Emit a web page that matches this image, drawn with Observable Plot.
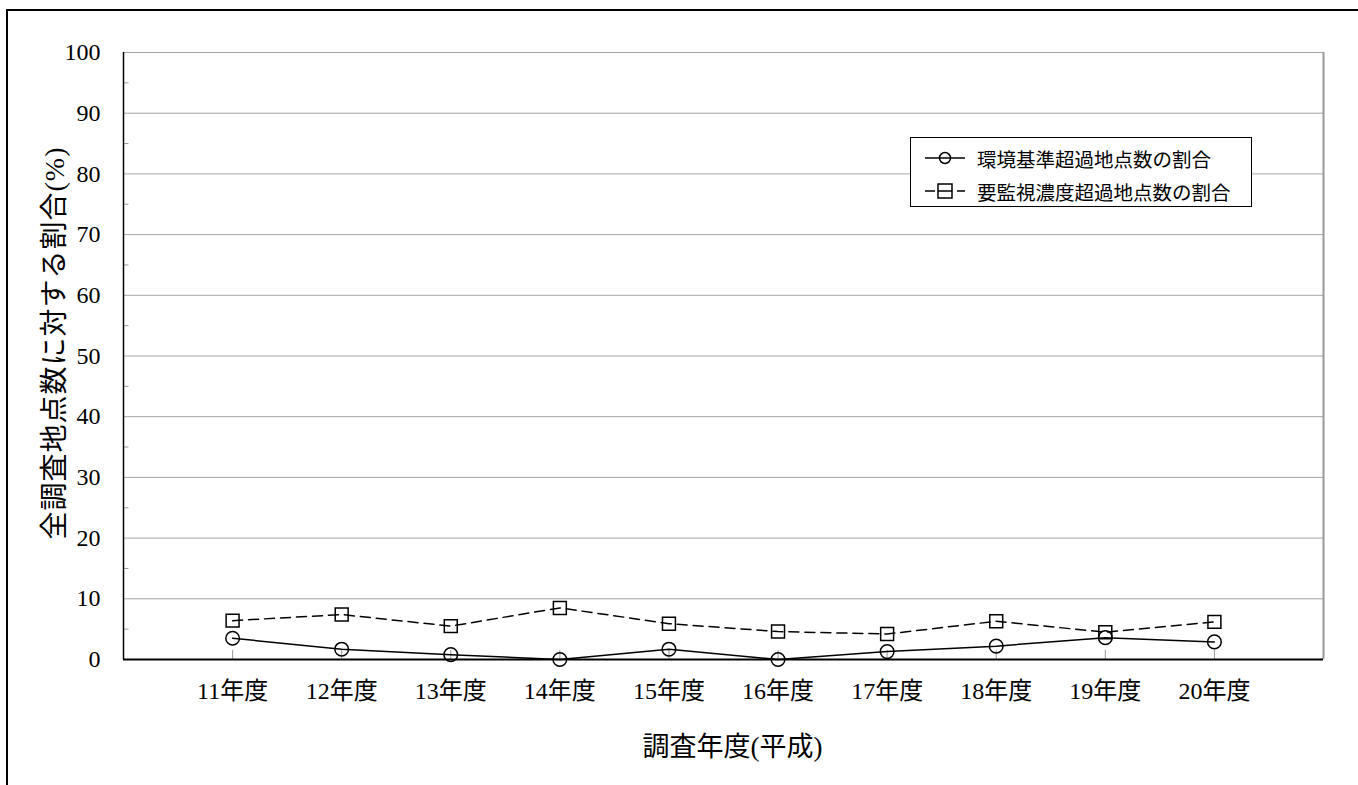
<!DOCTYPE html>
<html>
<head>
<meta charset="utf-8">
<script src="https://cdn.jsdelivr.net/npm/d3@7"></script>
<script src="https://cdn.jsdelivr.net/npm/@observablehq/plot@0.6"></script>
<style>
  html, body { margin: 0; padding: 0; background: #fff; overflow: hidden; }
  #wrap { position: relative; width: 1358px; height: 785px; }
  #outer { position: absolute; left: 6px; top: 9px; width: 1400px; height: 800px;
           border-top: 2px solid #000; border-left: 2px solid #000; pointer-events: none; }
  #chart { position: absolute; left: 0; top: 0; }
  #ytitle { position: absolute; left: 55px; top: 343px; transform: translate(-50%, -50%) rotate(-90deg);
            white-space: nowrap; font-family: "Liberation Serif", "Noto Sans CJK JP", serif; font-size: 28px;
            letter-spacing: 1px; line-height: 1; color: #000; }
  #legend { position: absolute; left: 910px; top: 137px; width: 340px; height: 68px;
            border: 1.5px solid #000; background: #fff;
            font-family: "Liberation Serif", "Noto Sans CJK JP", serif; font-size: 19.5px; color: #000; }
  .row { position: absolute; left: 12px; height: 30px; display: flex; align-items: center; }
  .row svg { margin-right: 10px; }
</style>
</head>
<body>
<div id="wrap">
  <div id="chart"></div>
  <div id="outer"></div>
  <div id="ytitle"></div>
  <div id="legend"></div>
</div>
<script>
// ---- data ----
const years = ["11年度", "12年度", "13年度", "14年度", "15年度", "16年度", "17年度", "18年度", "19年度", "20年度"];
const envStandard = [3.5, 1.7, 0.8, 0.0, 1.7, 0.0, 1.3, 2.2, 3.6, 2.9];   // 環境基準超過地点数の割合
const monitoring  = [6.4, 7.4, 5.5, 8.5, 5.9, 4.6, 4.2, 6.3, 4.5, 6.2];   // 要監視濃度超過地点数の割合
const seriesNames = ["環境基準超過地点数の割合", "要監視濃度超過地点数の割合"];
const yTicks = [0, 10, 20, 30, 40, 50, 60, 70, 80, 90, 100];
const yMinor = [5, 15, 25, 35, 45, 55, 65, 75, 85, 95];
const xTitle = "調査年度(平成)";
const yTitle = "全調査地点数に対する割合(%)";

const idx = years.map((_, i) => i + 1);
const envData = years.map((y, i) => ({pos: i + 1, v: envStandard[i]}));
const monData = years.map((y, i) => ({pos: i + 1, v: monitoring[i]}));

const font = "'Liberation Serif', 'Noto Sans CJK JP', serif";

const chart = Plot.plot({
  width: 1358,
  height: 785,
  marginLeft: 123,
  marginRight: 35,
  marginTop: 52,
  marginBottom: 126,
  style: {fontFamily: font, color: "#000", background: "#fff"},
  x: {type: "linear", domain: [0, years.length + 1], axis: null},
  y: {type: "linear", domain: [0, 100], axis: null},
  marks: [
    Plot.ruleY(yTicks.filter(d => d > 0), {stroke: "#a6a6a6", strokeWidth: 1}),
    Plot.ruleX([years.length + 1], {stroke: "#999", strokeWidth: 2}),
    Plot.ruleY(yMinor, {x1: 0, x2: 0.05, stroke: "#999"}),
    Plot.ruleX(idx, {y1: 0, y2: 1.5, stroke: "#999"}),
    Plot.ruleX([0], {stroke: "#000", strokeWidth: 1.5}),
    Plot.ruleY([0], {stroke: "#000", strokeWidth: 2}),
    Plot.axisY(yTicks, {tickSize: 0, tickPadding: 23, fontSize: 24, label: null}),
    Plot.axisX(idx, {tickSize: 0, tickPadding: 22, fontSize: 24, label: null,
                     tickFormat: i => years[i - 1]}),
    Plot.line(monData, {x: "pos", y: "v", stroke: "#000", strokeWidth: 1.5, strokeDasharray: "10,6"}),
    Plot.dot(monData, {x: "pos", y: "v", symbol: "square", r: 7.3, stroke: "#000", strokeWidth: 1.5, fill: "none"}),
    Plot.line(envData, {x: "pos", y: "v", stroke: "#000", strokeWidth: 1.5}),
    Plot.dot(envData, {x: "pos", y: "v", symbol: "circle", r: 6.8, stroke: "#000", strokeWidth: 1.5, fill: "none"}),
    Plot.text([xTitle], {frameAnchor: "bottom", dy: 88, dx: 9, lineAnchor: "middle", fontSize: 27})
  ]
});
document.getElementById("chart").appendChild(chart);
document.getElementById("ytitle").textContent = yTitle;

// ---- legend ----
const legend = document.getElementById("legend");
const symbols = [
  `<svg width="44" height="20"><line x1="2" x2="42" y1="10" y2="10" stroke="#000" stroke-width="1.5"/><circle cx="22" cy="10" r="5.5" fill="#fff" stroke="#000" stroke-width="1.5"/><line x1="16" x2="28" y1="10" y2="10" stroke="#000" stroke-width="1.5"/></svg>`,
  `<svg width="44" height="20"><line x1="2" x2="42" y1="10" y2="10" stroke="#000" stroke-width="1.5" stroke-dasharray="10,6"/><rect x="15" y="3" width="14" height="14" fill="#fff" stroke="#000" stroke-width="1.5"/><line x1="15" x2="29" y1="10" y2="10" stroke="#000" stroke-width="1.5"/></svg>`
];
seriesNames.forEach((name, i) => {
  const row = document.createElement("div");
  row.className = "row";
  row.style.top = (5 + i * 33) + "px";
  row.innerHTML = symbols[i] + `<span>${name}</span>`;
  legend.appendChild(row);
});
</script>
</body>
</html>
